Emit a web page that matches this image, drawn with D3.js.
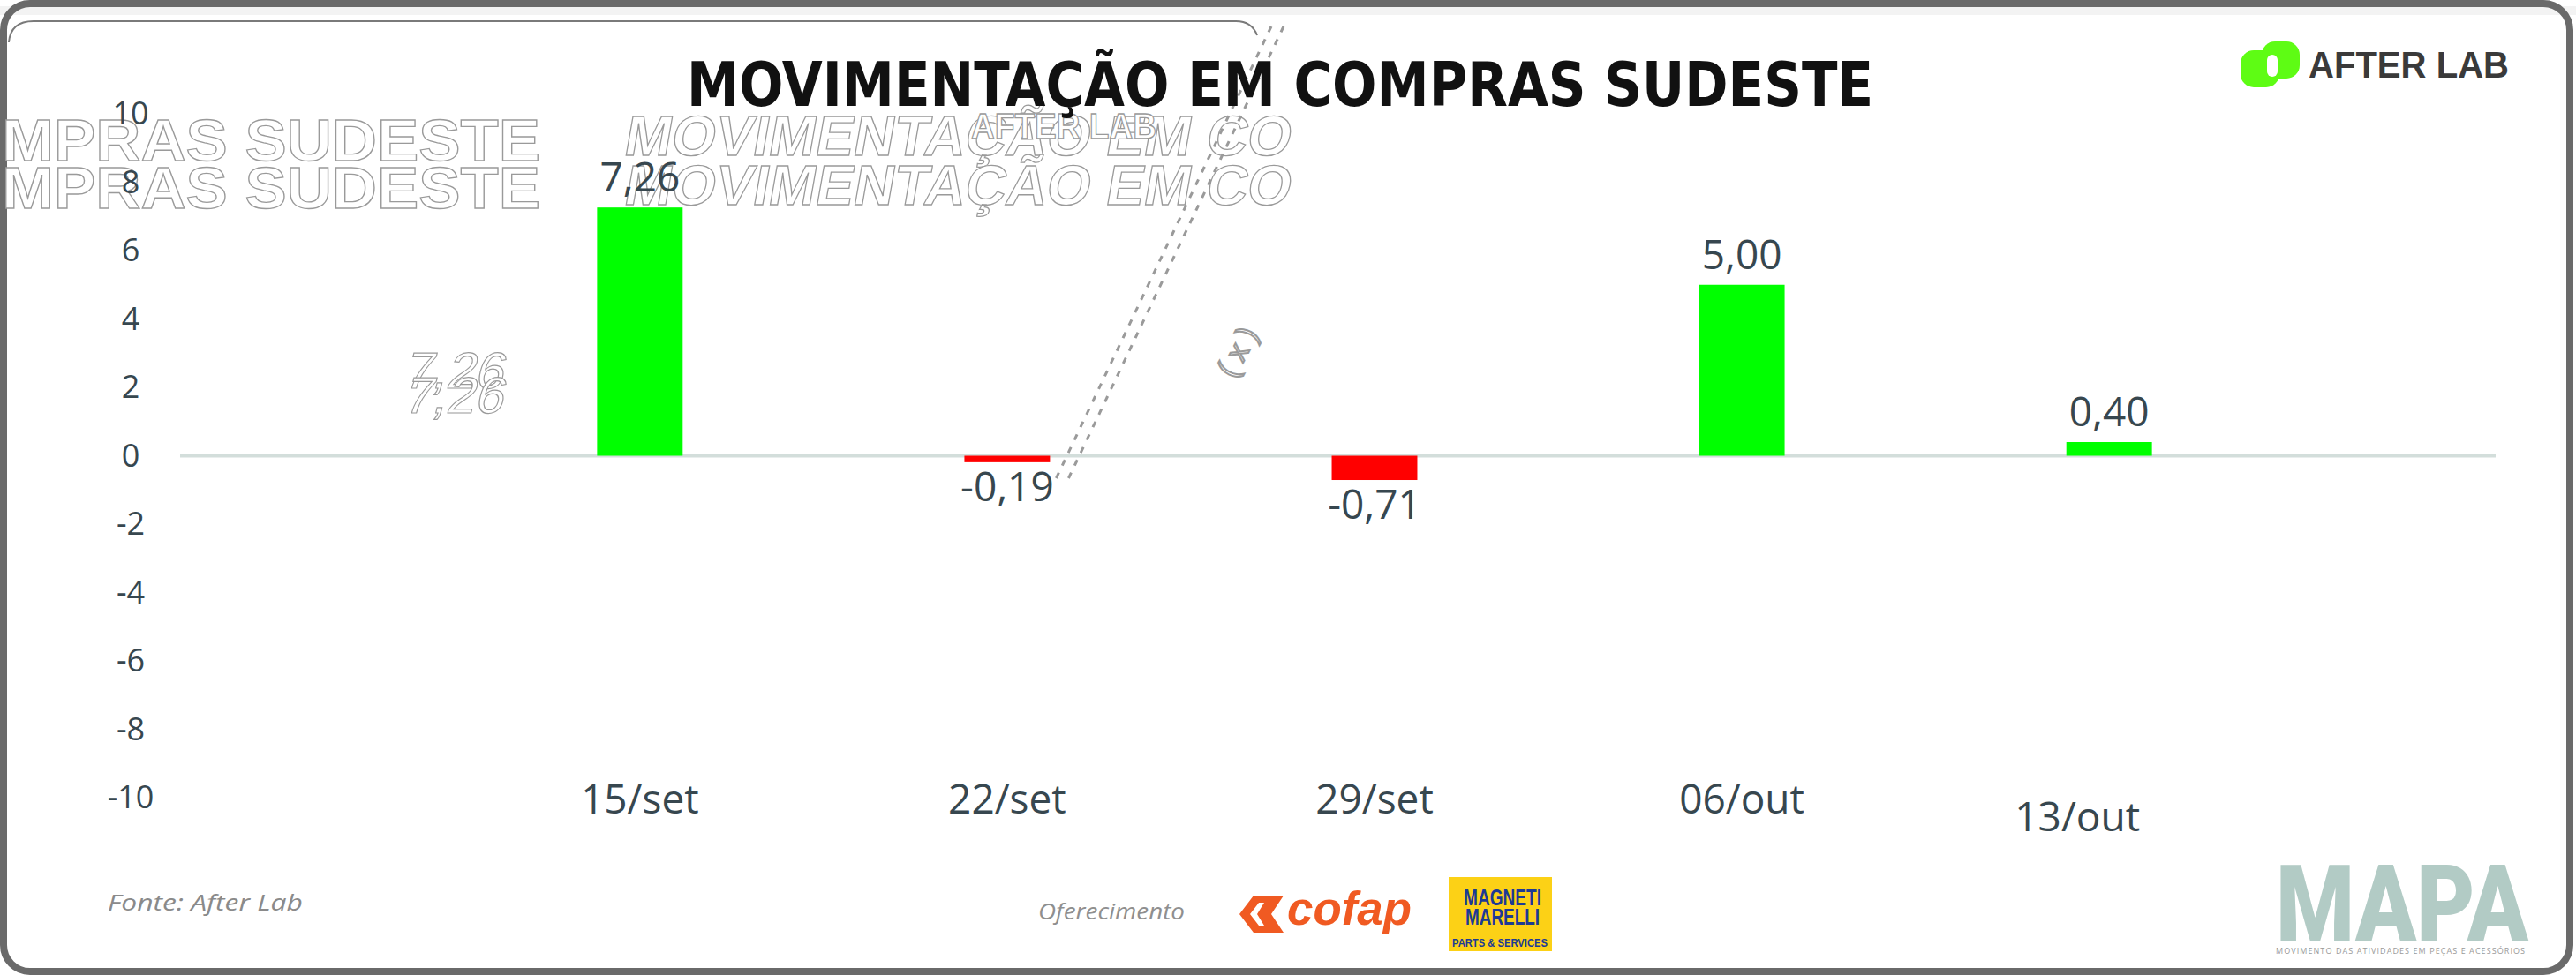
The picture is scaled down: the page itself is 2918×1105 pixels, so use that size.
<!DOCTYPE html>
<html>
<head>
<meta charset="utf-8">
<script src="https://cdn.jsdelivr.net/npm/d3@7"></script>
<style>
  html, body { margin: 0; padding: 0; background: #fff; }
  svg { display: block; }
</style>
</head>
<body>
<div id="chart"></div>
<script>
// chart data
var categories = ["15/set", "22/set", "29/set", "06/out", "13/out"];
var values     = [7.26, -0.19, -0.71, 5.00, 0.40];
var yTicks     = [10, 8, 6, 4, 2, 0, -2, -4, -6, -8, -10];

var W = 2918, H = 1105;
var textColor = "#37474f";

var svg = d3.select("#chart").append("svg")
    .attr("width", W)
    .attr("height", H);

// frame round the whole card
svg.append("rect")
    .attr("x", 0).attr("y", 7).attr("width", W).attr("height", 10)
    .attr("fill", "#f3f3f3");
svg.append("rect")
    .attr("x", 4).attr("y", 4)
    .attr("width", 2907).attr("height", 1097)
    .attr("rx", 30)
    .attr("fill", "none")
    .attr("stroke", "#6a6a6a")
    .attr("stroke-width", 8);
svg.append("path")
    .attr("d", "M10,48 Q12,24 38,24 L1400,24 Q1418,24 1424,40")
    .attr("fill", "none")
    .attr("stroke", "#7a7a7a")
    .attr("stroke-width", 2);

// scales
var x = d3.scaleBand()
    .domain(categories)
    .range([517, 2597])
    .paddingInner(0.767)
    .paddingOuter(0.383);

var y = d3.scaleLinear()
    .domain([-10, 10])
    .range([904, 129]);

var ptBR = d3.formatLocale({decimal: ",", thousands: ".", grouping: [3], currency: ["R$", ""], minus: "-"});
var fmt = ptBR.format(".2f");

// ghost artefacts left over in the picture
var ghost = svg.append("g").attr("class", "ghost")
    .attr("fill", "#fff").attr("stroke", "#9a9a9a").attr("stroke-width", 1.3)
    .style("font-family", "'Liberation Sans', Arial, sans-serif")
    .style("font-weight", "bold");

[182, 236].forEach(function(b){
    ghost.append("text")
        .attr("x", 2).attr("y", b)
        .attr("textLength", 610).attr("lengthAdjust", "spacingAndGlyphs")
        .style("font-size", "66px")
        .text("MPRAS SUDESTE");
});
[176, 232].forEach(function(b){
    ghost.append("text")
        .attr("transform", "translate(705," + b + ") skewX(-10)")
        .attr("textLength", 755).attr("lengthAdjust", "spacingAndGlyphs")
        .style("font-size", "64px")
        .text("MOVIMENTAÇÃO EM CO");
});
ghost.append("text")
    .attr("x", 1100).attr("y", 157)
    .attr("textLength", 210).attr("lengthAdjust", "spacingAndGlyphs")
    .style("font-size", "40px")
    .text("AFTER LAB");
[440, 468].forEach(function(b){
    ghost.append("text")
        .attr("transform", "translate(456," + b + ") skewX(-14)")
        .style("font-size", "58px").style("font-weight", "normal")
        .attr("stroke-width", 1.2)
        .text("7,26");
});
ghost.append("text")
    .attr("transform", "translate(1398,430) rotate(-62)")
    .attr("fill", "none").attr("stroke-width", 2)
    .style("font-size", "34px").style("font-weight", "normal")
    .text("( x )");
[0, 14].forEach(function(o){
    svg.append("line")
        .attr("x1", 1440 + o).attr("y1", 30)
        .attr("x2", 1195 + o).attr("y2", 545)
        .attr("stroke", "#9a9a9a").attr("stroke-width", 3)
        .attr("stroke-dasharray", "7 9");
});

// title
svg.append("text")
    .attr("x", 1450).attr("y", 120)
    .attr("text-anchor", "middle")
    .attr("textLength", 1344).attr("lengthAdjust", "spacingAndGlyphs")
    .style("font-family", "'Liberation Sans Narrow', 'DejaVu Sans Condensed', Arial, sans-serif")
    .style("font-weight", "bold")
    .style("font-size", "70px")
    .attr("fill", "#111")
    .text("MOVIMENTAÇÃO EM COMPRAS SUDESTE");

// y axis (labels only)
var yAxis = d3.axisLeft(y).tickValues(yTicks).tickSize(0).tickFormat(function(d){ return String(d); });
var yAxisG = svg.append("g")
    .attr("transform", "translate(148,0)")
    .call(yAxis);
yAxisG.select(".domain").remove();
yAxisG.selectAll("text")
    .attr("x", 0)
    .attr("text-anchor", "middle")
    .style("font-family", "'Open Sans', sans-serif")
    .style("font-size", "36px")
    .attr("fill", textColor);

// zero line
svg.append("line")
    .attr("x1", 204).attr("x2", 2827)
    .attr("y1", y(0)).attr("y2", y(0))
    .attr("stroke", "#d3dedb")
    .attr("stroke-width", 4);

// bars
svg.selectAll(".bar")
    .data(values)
  .enter().append("rect")
    .attr("class", "bar")
    .attr("x", function(d, i){ return x(categories[i]); })
    .attr("y", function(d){ return y(Math.max(0, d)); })
    .attr("width", x.bandwidth())
    .attr("height", function(d){ return Math.abs(y(d) - y(0)); })
    .attr("fill", function(d){ return d >= 0 ? "#00ff00" : "#ff0000"; });

// value labels
svg.selectAll(".val")
    .data(values)
  .enter().append("text")
    .attr("class", "val")
    .attr("x", function(d, i){ return x(categories[i]) + x.bandwidth() / 2; })
    .attr("y", function(d){ return d >= 0 ? y(d) - 18 : y(d) + 44; })
    .attr("text-anchor", "middle")
    .style("font-family", "'Open Sans', sans-serif")
    .style("font-size", "46px")
    .attr("fill", textColor)
    .text(function(d){ return fmt(d); });

// x axis (labels only)
var xAxis = d3.axisBottom(x).tickSize(0);
var xAxisG = svg.append("g")
    .attr("transform", "translate(0,922)")
    .call(xAxis);
xAxisG.select(".domain").remove();
xAxisG.selectAll("text")
    .attr("y", 0).attr("dy", 0)
    .style("font-family", "'Open Sans', sans-serif")
    .style("font-size", "46px")
    .attr("fill", textColor);
// last label sits a little lower and left in the original
xAxisG.selectAll(".tick").filter(function(d){ return d === "13/out"; })
    .select("text").attr("dx", -36).attr("dy", 20);

// AFTER LAB logo
var logo = svg.append("g");
logo.append("rect").attr("x", 2538).attr("y", 57).attr("width", 44).attr("height", 42).attr("rx", 15).attr("fill", "#5efc14");
logo.append("rect").attr("x", 2562).attr("y", 47).attr("width", 43).attr("height", 42).attr("rx", 15).attr("fill", "#5efc14");
logo.append("rect").attr("x", 2568).attr("y", 62).attr("width", 12).attr("height", 25).attr("rx", 6).attr("fill", "#fff");
logo.append("text")
    .attr("x", 2615).attr("y", 88)
    .attr("textLength", 227).attr("lengthAdjust", "spacingAndGlyphs")
    .style("font-family", "'Liberation Sans', Arial, sans-serif")
    .style("font-weight", "bold")
    .style("font-size", "42px")
    .attr("fill", "#3a3a3a")
    .text("AFTER LAB");

// footer: source
svg.append("text")
    .attr("x", 122).attr("y", 1032)
    .attr("textLength", 221).attr("lengthAdjust", "spacingAndGlyphs")
    .style("font-family", "'Open Sans', sans-serif")
    .style("font-style", "italic")
    .style("font-size", "26px")
    .attr("fill", "#8a8a8a")
    .text("Fonte: After Lab");

svg.append("text")
    .attr("x", 1176).attr("y", 1042)
    .attr("textLength", 166).attr("lengthAdjust", "spacingAndGlyphs")
    .style("font-family", "'Open Sans', sans-serif")
    .style("font-style", "italic")
    .style("font-size", "26px")
    .attr("fill", "#8f8f8f")
    .text("Oferecimento");

// cofap
var cofap = svg.append("g");
cofap.append("path")
    .attr("d", "M1404,1036 L1420,1015 L1454,1015 L1440,1036 L1454,1057 L1420,1057 Z")
    .attr("fill", "#f05a22");
cofap.append("path")
    .attr("d", "M1416,1036 L1426,1023 L1432,1023 L1424,1036 L1432,1049 L1426,1049 Z")
    .attr("fill", "#fff");
cofap.append("text")
    .attr("x", 1458).attr("y", 1048)
    .attr("textLength", 141).attr("lengthAdjust", "spacingAndGlyphs")
    .style("font-family", "'Liberation Sans Narrow', 'Liberation Sans', sans-serif")
    .style("font-weight", "bold")
    .style("font-style", "italic")
    .style("font-size", "54px")
    .attr("fill", "#f05a22")
    .text("cofap");

// magneti marelli
var mm = svg.append("g");
mm.append("rect").attr("x", 1641).attr("y", 994).attr("width", 117).attr("height", 84).attr("fill", "#fcd116");
mm.append("text").attr("x", 1702).attr("y", 1026).attr("text-anchor", "middle")
    .attr("textLength", 88).attr("lengthAdjust", "spacingAndGlyphs")
    .style("font-family", "'Liberation Sans Narrow', 'Liberation Sans', sans-serif")
    .style("font-weight", "bold").style("font-size", "26px")
    .attr("fill", "#1d3a94").text("MAGNETI");
mm.append("text").attr("x", 1702).attr("y", 1048).attr("text-anchor", "middle")
    .attr("textLength", 84).attr("lengthAdjust", "spacingAndGlyphs")
    .style("font-family", "'Liberation Sans Narrow', 'Liberation Sans', sans-serif")
    .style("font-weight", "bold").style("font-size", "26px")
    .attr("fill", "#1d3a94").text("MARELLI");
mm.append("text").attr("x", 1699).attr("y", 1073).attr("text-anchor", "middle")
    .attr("textLength", 108).attr("lengthAdjust", "spacingAndGlyphs")
    .style("font-family", "'Liberation Sans Narrow', 'Liberation Sans', sans-serif")
    .style("font-weight", "bold").style("font-size", "12px")
    .attr("fill", "#1d3a94").text("PARTS & SERVICES");

// MAPA
svg.append("text")
    .attr("x", 2578).attr("y", 1066)
    .attr("textLength", 286).attr("lengthAdjust", "spacingAndGlyphs")
    .style("font-family", "Roboto, 'DejaVu Sans', sans-serif")
    .style("font-weight", "900")
    .style("font-size", "120px")
    .attr("fill", "#b2cbc5")
    .text("MAPA");
svg.append("text")
    .attr("x", 2578).attr("y", 1081)
    .attr("textLength", 282).attr("lengthAdjust", "spacing")
    .style("font-family", "'Open Sans', sans-serif")
    .style("font-size", "9px")
    .attr("fill", "#9a9a9a")
    .text("MOVIMENTO DAS ATIVIDADES EM PEÇAS E ACESSÓRIOS");
</script>
</body>
</html>
